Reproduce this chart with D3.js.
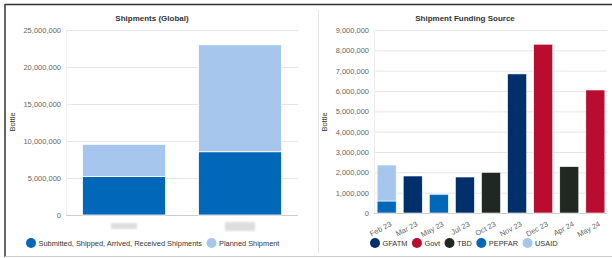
<!DOCTYPE html>
<html>
<head>
<meta charset="utf-8">
<script src="https://cdn.jsdelivr.net/npm/d3@7"></script>
<style>
body { margin: 0; background: #fff; }
svg { display: block; font-family: "Liberation Sans", Arial, sans-serif; }
.grid line { stroke: #e6e6e6; }
.tick text { fill: #666; font-size: 7.5px; }
.title { font-size: 8px; font-weight: bold; fill: #333; }
.legend text { font-size: 7.4px; fill: #333; }
</style>
</head>
<body>
<svg id="chart" width="612" height="258"></svg>
<script>
// left chart: shipments (global)
var shipCats = ["Global A", "Global B"];
var shipDone = [5200000, 8550000];
var shipPlanned = [4350000, 14450000];
var shipTicks = [0, 5000000, 10000000, 15000000, 20000000, 25000000];

// right chart: funding source by month
var months = ["Feb 23", "Mar 23", "May 23", "Jul 23", "Oct 23", "Nov 23", "Dec 23", "Apr 24", "May 24"];
var sources = ["GFATM", "Govt", "TBD", "PEPFAR", "USAID"];
var srcColors = ["#002f6c", "#ba0c2f", "#212721", "#0067b9", "#a7c6ed"];
var gfatm  = [0, 1820000, 0, 1770000, 0, 6840000, 0, 0, 0];
var govt   = [0, 0, 0, 0, 0, 0, 8300000, 0, 6050000];
var tbd    = [0, 0, 0, 0, 2000000, 0, 0, 2280000, 0];
var pepfar = [590000, 0, 920000, 0, 0, 0, 0, 0, 0];
var usaid  = [1770000, 0, 0, 0, 0, 0, 0, 0, 0];
var fundTicks = d3.range(0, 9000001, 1000000);

var svg = d3.select("#chart");
var fmt = d3.format(",");

// frame
svg.append("line").attr("x1", 5).attr("x2", 612).attr("y1", 4.5).attr("y2", 4.5).attr("stroke", "#333").attr("stroke-width", 1.5);
svg.append("line").attr("x1", 5).attr("x2", 5).attr("y1", 4).attr("y2", 257).attr("stroke", "#333").attr("stroke-width", 1.5);
svg.append("line").attr("x1", 5).attr("x2", 612).attr("y1", 256.5).attr("y2", 256.5).attr("stroke", "#ccc");
svg.append("line").attr("x1", 318.5).attr("x2", 318.5).attr("y1", 10).attr("y2", 253).attr("stroke", "#e6e6e6");

function drawFrame(g, y, x0, x1, ticks, title, cx) {
  g.append("text").attr("class", "title").attr("x", cx).attr("y", 21).attr("text-anchor", "middle").text(title);
  var ax = g.append("g").attr("class", "grid").attr("transform", "translate(" + x0 + ",0)")
    .call(d3.axisLeft(y).tickValues(ticks).tickFormat(fmt).tickSize(-(x1 - x0)).tickPadding(5));
  ax.select(".domain").remove();
  ax.selectAll(".tick text").attr("dy", "0.32em");
  g.append("line").attr("x1", x0 + 0.5).attr("x2", x0 + 0.5).attr("y1", y.range()[1]).attr("y2", y.range()[0]).attr("stroke", "#eee");
  g.append("line").attr("x1", x0).attr("x2", x1).attr("y1", y(0) + 0.5).attr("y2", y(0) + 0.5).attr("stroke", "#ccc");
}

function drawLegend(g, names, colors, x) {
  var leg = g.append("g").attr("class", "legend");
  names.forEach(function(n, i) {
    leg.append("circle").attr("cx", x).attr("cy", 243).attr("r", 5).attr("fill", colors[i]);
    var t = leg.append("text").attr("x", x + 7.5).attr("y", 245.8).text(n);
    x += 7.5 + t.node().getComputedTextLength() + 9.5;
  });
}

// ---- left chart
var gL = svg.append("g");
var yL = d3.scaleLinear().domain([0, 25000000]).range([215, 30]);
var xL = d3.scaleBand().domain(shipCats).range([66, 298]).paddingInner(0.284).paddingOuter(0.142);
drawFrame(gL, yL, 66, 298, shipTicks, "Shipments (Global)", 152);
gL.append("text").attr("transform", "translate(15,122) rotate(-90)").attr("text-anchor", "middle")
  .attr("font-size", 7.5).attr("fill", "#333").text("Bottle");

var stackL = d3.stack().keys([0, 1]).value(function(d, k) { return k == 0 ? d.done : d.planned; })(
  shipCats.map(function(c, i) { return { cat: c, done: shipDone[i], planned: shipPlanned[i] }; }));
var colL = ["#0067b9", "#a7c6ed"];
stackL.forEach(function(layer, k) {
  gL.selectAll(null).data(layer).enter().append("rect")
    .attr("x", function(d) { return xL(d.data.cat); })
    .attr("width", xL.bandwidth())
    .attr("y", function(d) { return yL(d[1]); })
    .attr("height", function(d) { return yL(d[0]) - yL(d[1]); })
    .attr("fill", colL[k]).attr("stroke", "#fff").attr("stroke-width", 0.8);
});
// redacted category labels
var defs = svg.append("defs");
defs.append("filter").attr("id", "blur").append("feGaussianBlur").attr("stdDeviation", 1.2);
gL.selectAll(null).data(shipCats).enter().append("rect")
  .attr("x", function(d, i) { return xL(d) + xL.bandwidth() / 2 - (i == 0 ? 13 : 15); })
  .attr("y", function(d, i) { return i == 0 ? 223 : 222; })
  .attr("width", function(d, i) { return i == 0 ? 26 : 30; })
  .attr("height", function(d, i) { return i == 0 ? 6 : 9; })
  .attr("fill", "#ddd").attr("filter", "url(#blur)");

drawLegend(gL, ["Submitted, Shipped, Arrived, Received Shipments", "Planned Shipment"], colL, 31);

// ---- right chart
var gR = svg.append("g");
var yR = d3.scaleLinear().domain([0, 9000000]).range([213, 30]);
var xR = d3.scaleBand().domain(months).range([374, 608]).paddingInner(0.27).paddingOuter(0.12);
drawFrame(gR, yR, 374, 607, fundTicks, "Shipment Funding Source", 465);
gR.append("text").attr("transform", "translate(327,122) rotate(-90)").attr("text-anchor", "middle")
  .attr("font-size", 7.5).attr("fill", "#333").text("Bottle");

var series = [gfatm, govt, tbd, pepfar, usaid];
var rows = months.map(function(m, i) {
  var r = { month: m };
  sources.forEach(function(s, k) { r[s] = series[k][i]; });
  return r;
});
// pepfar sits under usaid, order as drawn
var order = ["PEPFAR", "GFATM", "Govt", "TBD", "USAID"];
var stackR = d3.stack().keys(order)(rows);
stackR.forEach(function(layer) {
  var col = srcColors[sources.indexOf(layer.key)];
  gR.selectAll(null).data(layer.filter(function(d) { return d[1] > d[0]; })).enter().append("rect")
    .attr("x", function(d) { return xR(d.data.month); })
    .attr("width", xR.bandwidth())
    .attr("y", function(d) { return yR(d[1]); })
    .attr("height", function(d) { return yR(d[0]) - yR(d[1]); })
    .attr("fill", col).attr("stroke", "#fff").attr("stroke-width", 0.6);
});

gR.selectAll(null).data(months).enter().append("text")
  .attr("transform", function(d) { return "translate(" + (xR(d) + xR.bandwidth() / 2 + 3) + ",221) rotate(-28)"; })
  .attr("text-anchor", "end").attr("dy", "0.7em").attr("font-size", 7.5).attr("fill", "#666").text(function(d) { return d; });

drawLegend(gR, sources, srcColors, 375);
</script>
</body>
</html>
